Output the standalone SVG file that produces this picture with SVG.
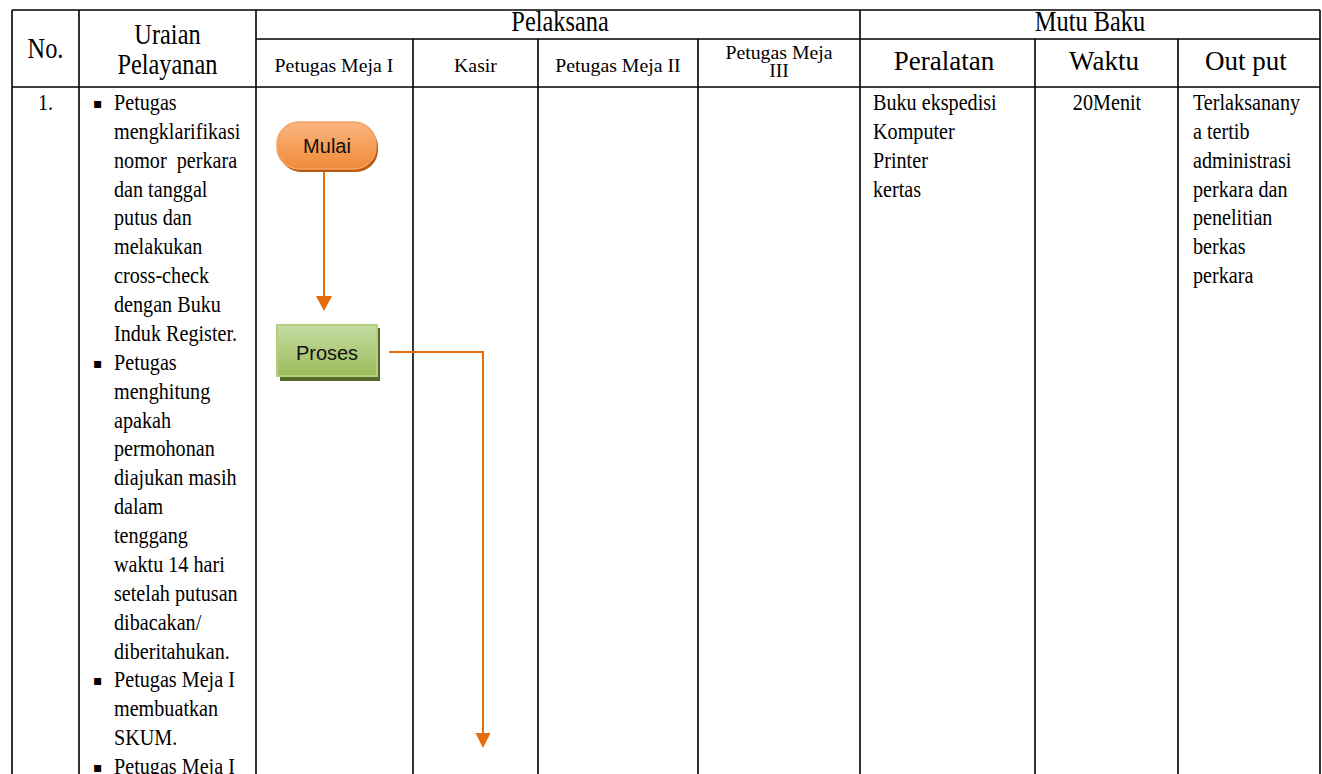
<svg xmlns="http://www.w3.org/2000/svg" width="1322" height="774" viewBox="0 0 1322 774">
<style>
.grid line{stroke:#000;stroke-width:1.6}
.hd{font-family:"Liberation Serif","Times New Roman",serif;font-size:29px;fill:#000}
.hm{font-family:"Liberation Serif","Times New Roman",serif;font-size:27px;fill:#000;text-anchor:middle}
.sh{font-family:"Liberation Serif","Times New Roman",serif;font-size:18px;fill:#000}
.bd{font-family:"Liberation Serif","Times New Roman",serif;font-size:24px;fill:#000}
.bl{font-family:"DejaVu Sans",sans-serif;font-size:14px;fill:#000}
.nd{font-family:"Liberation Sans",Arial,sans-serif;font-size:20px;fill:#111;text-anchor:middle}
.cn{stroke:#e46c0a;stroke-width:2;fill:none}
</style>
<defs>
<linearGradient id="gO" x1="0" y1="0" x2="0" y2="1"><stop offset="0" stop-color="#fbb57f"/><stop offset="1" stop-color="#f08a38"/></linearGradient>
<linearGradient id="gG" x1="0" y1="0" x2="0" y2="1"><stop offset="0" stop-color="#c6dca3"/><stop offset="1" stop-color="#9bbb5a"/></linearGradient>
</defs>
<rect width="1322" height="774" fill="#fff"/>
<g id="table" class="grid">
<line x1="12" y1="10" x2="1320" y2="10"/>
<line x1="256" y1="39" x2="1320" y2="39"/>
<line x1="12" y1="87" x2="1320" y2="87"/>
<line x1="12" y1="10" x2="12" y2="774"/>
<line x1="79" y1="10" x2="79" y2="774"/>
<line x1="256" y1="10" x2="256" y2="774"/>
<line x1="413" y1="39" x2="413" y2="774"/>
<line x1="538" y1="39" x2="538" y2="774"/>
<line x1="698" y1="39" x2="698" y2="774"/>
<line x1="860" y1="10" x2="860" y2="774"/>
<line x1="1035" y1="39" x2="1035" y2="774"/>
<line x1="1178" y1="39" x2="1178" y2="774"/>
<line x1="1320" y1="10" x2="1320" y2="774"/>
</g>
<g id="headers">
<g transform="scale(0.84 1)">
<text class="hd" x="54.2" y="58" text-anchor="middle">No.</text>
<text class="hd" x="199.4" y="44" text-anchor="middle">Uraian</text>
<text class="hd" x="199.4" y="74" text-anchor="middle">Pelayanan</text>
<text class="hd" x="666.7" y="31" text-anchor="middle">Pelaksana</text>
<text class="hd" x="1297.6" y="31" text-anchor="middle">Mutu Baku</text>
</g>
<text class="hm" x="944" y="70">Peralatan</text>
<text class="hm" x="1104" y="70">Waktu</text>
<text class="hm" x="1246" y="70">Out put</text>
<g transform="scale(1.1 1)">
<text class="sh" x="303.6" y="72" text-anchor="middle">Petugas Meja I</text>
<text class="sh" x="432.3" y="72" text-anchor="middle">Kasir</text>
<text class="sh" x="561.8" y="72" text-anchor="middle">Petugas Meja II</text>
<text class="sh" x="708.2" y="59" text-anchor="middle">Petugas Meja</text>
<text class="sh" x="708.2" y="77" text-anchor="middle">III</text>
</g>
</g>
<g id="row1">
<g transform="scale(0.84 1)">
<text class="bd" x="54.2" y="110" text-anchor="middle">1.</text>
<text class="bd"><tspan x="135.7" y="110">Petugas</tspan><tspan x="135.7" dy="28.87">mengklarifikasi</tspan><tspan x="135.7" dy="28.87">nomor&#160; perkara</tspan><tspan x="135.7" dy="28.87">dan tanggal</tspan><tspan x="135.7" dy="28.87">putus dan</tspan><tspan x="135.7" dy="28.87">melakukan</tspan><tspan x="135.7" dy="28.87">cross-check</tspan><tspan x="135.7" dy="28.87">dengan Buku</tspan><tspan x="135.7" dy="28.87">Induk Register.</tspan><tspan x="135.7" dy="28.87">Petugas</tspan><tspan x="135.7" dy="28.87">menghitung</tspan><tspan x="135.7" dy="28.87">apakah</tspan><tspan x="135.7" dy="28.87">permohonan</tspan><tspan x="135.7" dy="28.87">diajukan masih</tspan><tspan x="135.7" dy="28.87">dalam</tspan><tspan x="135.7" dy="28.87">tenggang</tspan><tspan x="135.7" dy="28.87">waktu 14 hari</tspan><tspan x="135.7" dy="28.87">setelah putusan</tspan><tspan x="135.7" dy="28.87">dibacakan/</tspan><tspan x="135.7" dy="28.87">diberitahukan.</tspan><tspan x="135.7" dy="28.87">Petugas Meja I</tspan><tspan x="135.7" dy="28.87">membuatkan</tspan><tspan x="135.7" dy="28.87">SKUM.</tspan><tspan x="135.7" dy="28.87">Petugas Meja I</tspan></text>
<text class="bd"><tspan x="1039.3" y="110">Buku ekspedisi</tspan><tspan x="1039.3" dy="28.87">Komputer</tspan><tspan x="1039.3" dy="28.87">Printer</tspan><tspan x="1039.3" dy="28.87">kertas</tspan></text>
<text class="bd" x="1317.9" y="110" text-anchor="middle">20Menit</text>
<text class="bd"><tspan x="1420.2" y="110">Terlaksanany</tspan><tspan x="1420.2" dy="28.87">a tertib</tspan><tspan x="1420.2" dy="28.87">administrasi</tspan><tspan x="1420.2" dy="28.87">perkara dan</tspan><tspan x="1420.2" dy="28.87">penelitian</tspan><tspan x="1420.2" dy="28.87">berkas</tspan><tspan x="1420.2" dy="28.87">perkara</tspan></text>
</g>
<text class="bl" x="93" y="108">▪</text>
<text class="bl" x="93" y="368">▪</text>
<text class="bl" x="93" y="685">▪</text>
<text class="bl" x="93" y="772">▪</text>
</g>
<g id="connectors">
<path class="cn" d="M324 170 V298"/>
<polygon points="316,296 332,296 324,311" fill="#e46c0a"/>
<path class="cn" d="M389 352 H483 V735"/>
<polygon points="475.5,733 490.5,733 483,748" fill="#e46c0a"/>
</g>
<g id="node-mulai">
<rect x="279" y="125" width="99" height="47" rx="22" fill="#b85a12"/>
<rect x="277" y="122" width="99" height="47" rx="22" fill="url(#gO)" stroke="#f7a264" stroke-width="1.5"/>
<text class="nd" x="327" y="153">Mulai</text>
</g>
<g id="node-proses">
<rect x="280" y="328" width="100" height="53" fill="#546a2a"/>
<rect x="277" y="325" width="100" height="51" fill="url(#gG)" stroke="#b3cf7f" stroke-width="2"/>
<text class="nd" x="327" y="360">Proses</text>
</g>
</svg>
